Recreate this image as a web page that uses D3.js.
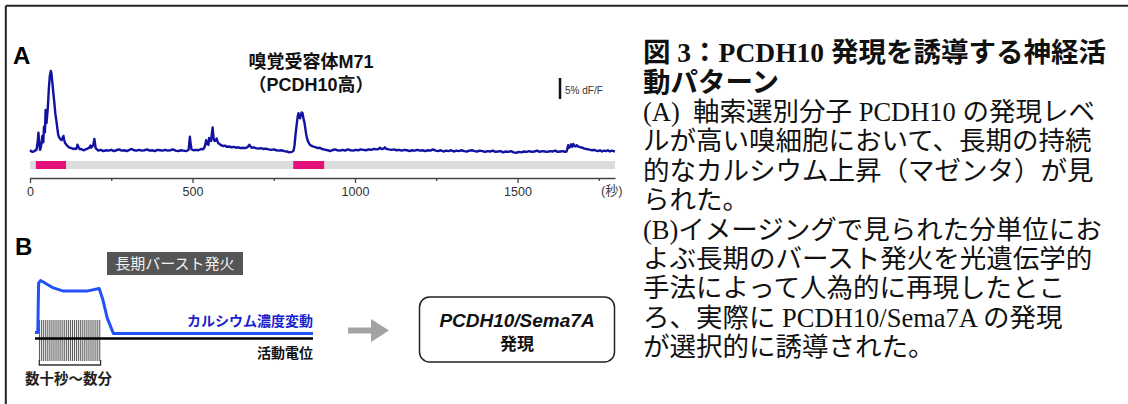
<!DOCTYPE html>
<html><head><meta charset="utf-8">
<script src="https://cdn.jsdelivr.net/npm/d3@7"></script>
<style>body{margin:0;background:#fff}svg{display:block}</style>
</head><body><svg id="c" width="1128" height="404"></svg>
<script>
// ---- Panel A data: calcium trace (time in s, dF/F in %) ----
const traceData = [
[0,0.3],[5,0.0],[10,-0.1],[15,0.2],[20,0.4],[24,2.5],[26,4.5],[28,2.0],[31,0.4],[34,1.2],[38,3.7],[41,2.2],[43,5.9],[46,4.6],[48,9.9],[50,7.5],[51,6.8],[53,8.8],[54,9.5],[56,12],[58,15],[61,18],[64,19.2],[66,18.6],[69,16.3],[72,13.8],[75,11.5],[78,9],[82,6.8],[85,5],[87,3.9],[90,3.3],[94,2.9],[97,2.7],[100,3.2],[103,3.7],[105,2.8],[108,2.0],[112,1.6],[116,1.3],[120,1.0],[123,0.9],[128,0.8],[133,0.6],[138,0.7],[142,0.6],[144,0.9],[146,1.6],[148,1.2],[151,0.8],[154,0.5],[158,0.6],[162,0.4],[166,0.3],[170,0.5],[175,0.6],[180,0.8],[183,1.0],[186,1.4],[188,0.9],[192,1.2],[195,1.6],[198,3.0],[200,2.0],[202,0.8],[206,0.5],
[210,0.2],[218,0.4],[226,0.1],[234,0.3],[242,0.2],[250,0.4],[258,0.1],[266,0.3],[274,0.5],[282,0.2],[290,0.3],[298,0.1],[306,0.4],[313,0.6],[320,0.3],[328,0.2],[336,0.4],[344,0.2],[352,0.3],[360,0.5],[368,0.2],[376,0.3],[384,0.1],[392,0.4],[400,0.3],[408,0.2],[416,0.4],[424,0.2],[432,0.3],[440,0.5],[448,0.2],[456,0.1],[464,0.3],[472,0.2],[480,0.1],[486,0.3],
[488,0.4],[490,2.0],[492,3.5],[494,2.0],[497,0.5],[503,0.3],[510,0.4],[518,0.3],[526,0.6],[532,0.5],[536,0.9],[539,1.5],[542,2.7],[545,1.8],[547,2.0],[549,1.6],[551,3.2],[554,2.8],[557,2.5],[560,4.5],[562,5.7],[564,3.9],[566,2.7],[569,2.5],[572,2.6],[574,3.1],[577,2.4],[579,2.0],[583,1.8],[588,1.5],[594,1.3],[600,1.4],[606,1.1],[613,1.2],[620,1.0],[627,1.1],[634,0.9],[641,1.0],[648,0.8],[655,0.9],[662,0.8],[668,1.0],[672,1.3],[675,1.6],[678,1.2],[682,0.9],[688,1.0],[695,0.8],[702,0.7],[710,0.8],[718,0.6],[726,0.7],[734,0.5],[742,0.4],[750,0.5],[758,0.3],[766,0.2],[774,0.3],[782,0.1],[790,0.0],[798,-0.2],[806,-0.1],
[811,0.2],[814,1.5],[817,4.0],[821,6.7],[824,8.5],[826,9.1],[828,8.4],[831,7.9],[834,8.8],[836,9.3],[838,9.2],[840,8.5],[842,7.6],[844,7.1],[847,5.6],[850,4.0],[853,3.0],[856,2.3],[859,1.9],[862,1.5],[866,1.4],[870,1.2],[875,1.1],[880,1.0],[886,0.8],[892,0.9],[898,0.6],[904,0.5],[910,0.4],[916,0.3],[923,0.1],
[930,0.3],[938,0.5],[946,0.3],[954,0.2],[962,0.4],[970,0.2],[978,0.5],[986,0.3],[994,0.2],[1002,0.4],[1010,0.3],[1018,0.5],[1026,0.4],[1034,0.3],[1042,0.5],[1050,0.4],[1058,0.6],[1066,0.5],[1072,0.6],[1077,0.9],[1082,0.6],[1088,0.7],[1092,1.0],[1097,0.6],[1104,0.5],[1112,0.4],[1120,0.5],[1128,0.3],[1136,0.4],[1144,0.2],[1152,0.4],[1160,0.3],[1168,0.1],[1176,0.3],[1184,0.2],[1192,0.4],[1200,0.2],[1208,0.3],[1216,0.1],[1224,0.3],[1232,0.2],[1240,0.5],[1248,0.2],[1256,0.1],[1264,0.3],[1272,0.0],[1280,0.2],[1288,0.1],[1296,0.3],[1304,0.0],[1312,0.2],[1320,0.1],[1328,0.3],[1336,0.1],[1344,0.0],[1352,0.2],[1360,0.3],[1368,0.1],[1376,0.0],[1384,0.2],[1392,0.1],[1400,-0.1],[1408,0.1],[1416,0.0],[1424,0.2],[1432,-0.1],[1440,0.0],[1448,0.1],[1456,-0.2],[1464,0.0],[1472,-0.1],[1480,0.1],[1488,-0.2],[1496,-0.3],[1504,-0.1],[1512,-0.2],[1520,0.0],[1528,-0.1],[1536,0.1],[1544,-0.1],[1552,0.0],[1560,0.2],[1568,-0.1],[1576,0.1],[1584,0.0],[1592,-0.1],[1600,0.1],[1608,0.0],[1616,0.2],[1624,-0.1],[1632,0.0],[1640,0.1],[1646,-0.1],[1651,0.0],
[1654,0.8],[1656,1.5],[1659,0.9],[1662,1.2],[1665,1.7],[1668,1.1],[1672,1.8],[1675,1.3],[1679,1.2],[1682,1.5],[1686,1.2],[1690,1.1],[1695,1.0],[1700,0.9],[1706,0.7],[1712,0.6],[1718,0.5],[1724,0.4],[1730,0.3],[1736,0.4],[1742,0.2],[1748,0.1],[1754,0.3],[1760,0.0],[1766,0.2],[1772,0.1],[1778,0.3],[1784,0.0],[1790,0.2],[1795,0.1],[1800,0.0]
];
const magentaSpans = [[18,111],[810,905]];
const timeDomain = [0,1800];
const majorTicks = [0,500,1000,1500];
const minorTicks = [250,750,1250,1750];
const scaleBarRange = [12.5,17.5]; // 5% dF/F
const titleA = ["嗅覚受容体M71","（PCDH10高）"];

// ---- Panel B schematic data ----
const calciumCurve = [[0,0.02],[1.0,0.02],[1.3,0.95],[2.05,1.0],[6.6,0.86],[10.2,0.8],[18.6,0.8],[23.1,0.85],[24.4,0.64],[26,0.29],[28.2,0],[100,0]];
const spikeTimes = [1.6,2.3,3.0,3.7,4.4,5.1,5.8,6.5,7.2,7.9,8.6,9.3,10.0,10.7,11.4,12.1,12.8,13.5,14.2,14.9,15.6,16.3,17.0,17.7,18.4,19.1,19.8,20.5,21.2,21.9,22.6,23.3];
const burstWindow = [1.55,23.6];

// ---- Right text ----
const titleLines = ["図 3：PCDH10 発現を誘導する神経活","動パターン"];
const bodyLines = [
"(A)  軸索選別分子 PCDH10 の発現レベ",
"ルが高い嗅細胞において、長期の持続",
"的なカルシウム上昇（マゼンタ）が見",
"られた。",
"(B)イメージングで見られた分単位にお",
"よぶ長期のバースト発火を光遺伝学的",
"手法によって人為的に再現したとこ",
"ろ、実際に PCDH10/Sema7A の発現",
"が選択的に誘導された。"
];

const svg = d3.select("#c");
const sans = '"Liberation Sans", Arial, "Noto Sans CJK JP", sans-serif';
const serif = '"Liberation Serif", "Times New Roman", "Noto Sans CJK JP", serif';

// frame (top and left)
svg.append("line").attr("x1",5.8).attr("x2",1128).attr("y1",5.8).attr("y2",5.8).attr("stroke","#222").attr("stroke-width",2);
svg.append("line").attr("x1",5.8).attr("x2",5.8).attr("y1",5.8).attr("y2",404).attr("stroke","#222").attr("stroke-width",2);

// ---- Panel A ----
const x = d3.scaleLinear().domain(timeDomain).range([30,615]);
const y = d3.scaleLinear().domain([0,20]).range([151.5,67.5]);

svg.append("text").attr("x",13).attr("y",64).attr("font-family",sans).attr("font-weight","bold").attr("font-size",24).text("A");
svg.selectAll(".tA").data(titleA).join("text").attr("x",311).attr("y",(d,i)=>68+i*23)
  .attr("text-anchor","middle").attr("font-family",sans).attr("font-weight","bold").attr("font-size",18).attr("fill","#111").text(d=>d);

// gray bar and magenta spans
svg.append("rect").attr("x",x(timeDomain[0])).attr("y",161).attr("width",x(timeDomain[1])-x(timeDomain[0])).attr("height",8).attr("fill","#dcdcdc");
svg.selectAll(".mag").data(magentaSpans).join("rect").attr("x",d=>x(d[0])).attr("y",161).attr("width",d=>x(d[1])-x(d[0])).attr("height",8).attr("fill","#e3107c");

// trace
svg.append("path").datum(traceData).attr("d",d3.line().x(d=>x(d[0])).y(d=>y(d[1])))
  .attr("fill","none").attr("stroke","#1212a2").attr("stroke-width",2.4).attr("stroke-linejoin","round");

// scale bar
svg.append("line").attr("x1",560).attr("x2",560).attr("y1",y(scaleBarRange[0])).attr("y2",y(scaleBarRange[1])).attr("stroke","#111").attr("stroke-width",2.5);
svg.append("text").attr("x",565).attr("y",94).attr("font-family",sans).attr("font-size",10).attr("fill","#333").text("5% dF/F");

// axis
const axG = svg.append("g").attr("transform","translate(0,178)");
axG.call(d3.axisBottom(x).tickValues(majorTicks).tickFormat(d3.format("d")).tickSize(5).tickSizeOuter(0).tickPadding(4));
const axMinor = svg.append("g").attr("transform","translate(0,178)");
axMinor.call(d3.axisBottom(x).tickValues(minorTicks).tickSize(3).tickFormat(""));
axMinor.select(".domain").remove();
svg.selectAll(".tick line, .domain").attr("stroke","#444").attr("stroke-width",1.3);
axG.selectAll(".tick text").attr("font-family",sans).attr("font-size",12.5).attr("fill","#333");
svg.append("text").attr("x",601).attr("y",195).attr("font-family",sans).attr("font-size",13).attr("fill","#444").text("(秒)");

// ---- Panel B ----
const bx = d3.scaleLinear().domain([0,100]).range([35,313]);
const by = d3.scaleLinear().domain([0,1]).range([333.5,280.5]);

svg.append("text").attr("x",15).attr("y",255).attr("font-family",sans).attr("font-weight","bold").attr("font-size",24).text("B");
svg.append("rect").attr("x",107).attr("y",252).attr("width",136).attr("height",23).attr("fill","#555");
svg.append("text").attr("x",175).attr("y",269).attr("text-anchor","middle").attr("font-family",sans).attr("font-size",15).attr("fill","#f2f2f2").text("長期バースト発火");

// spikes
svg.selectAll(".sp").data(spikeTimes).join("line").attr("x1",d=>bx(d)).attr("x2",d=>bx(d)).attr("y1",320).attr("y2",361)
  .attr("stroke","#555").attr("stroke-width",1);
// activity potential baseline
svg.append("line").attr("x1",bx(0)).attr("x2",bx(100)).attr("y1",338.5).attr("y2",338.5).attr("stroke","#000").attr("stroke-width",2.5);
// calcium curve
svg.append("path").datum(calciumCurve).attr("d",d3.line().x(d=>bx(d[0])).y(d=>by(d[1])))
  .attr("fill","none").attr("stroke","#2251f5").attr("stroke-width",3).attr("stroke-linejoin","round");
// bracket
svg.append("path").attr("d",`M${bx(burstWindow[0])},360V365H${bx(burstWindow[1])}V360`).attr("fill","none").attr("stroke","#333").attr("stroke-width",1.3);
svg.append("text").attr("x",25).attr("y",384).attr("font-family",sans).attr("font-weight","bold").attr("font-size",14.5).attr("fill","#222").text("数十秒～数分");
svg.append("text").attr("x",313).attr("y",326).attr("text-anchor","end").attr("font-family",sans).attr("font-weight","bold").attr("font-size",14).attr("fill","#1a22cc").text("カルシウム濃度変動");
svg.append("text").attr("x",313).attr("y",358).attr("text-anchor","end").attr("font-family",sans).attr("font-weight","bold").attr("font-size",14).attr("fill","#111").text("活動電位");

// arrow
svg.append("path").attr("d","M348,327.5H371V319L389,330.5L371,342V333.5H348Z").attr("fill","#a3a3a3");

// result box
svg.append("rect").attr("x",419.5).attr("y",297).attr("width",195).attr("height",65).attr("rx",10).attr("fill","#fff").attr("stroke","#222").attr("stroke-width",1.5);
svg.append("text").attr("x",517).attr("y",327).attr("text-anchor","middle").attr("font-family",sans).attr("font-weight","bold").attr("font-style","italic").attr("font-size",19).attr("fill","#111").text("PCDH10/Sema7A");
svg.append("text").attr("x",517).attr("y",350).attr("text-anchor","middle").attr("font-family",sans).attr("font-weight","bold").attr("font-size",17).attr("fill","#111").text("発現");

// ---- Right text block ----
const tx = 643;
svg.selectAll(".tt").data(titleLines).join("text").attr("x",tx).attr("y",(d,i)=>62+i*30)
  .attr("font-family",serif).attr("font-weight","bold").attr("font-size",27.5).attr("fill","#111").style("white-space","pre").text(d=>d);
svg.selectAll(".bt").data(bodyLines).join("text").attr("x",tx).attr("y",(d,i)=>121+i*29.4)
  .attr("font-family",serif).attr("font-size",26.5).attr("fill","#111").style("white-space","pre").text(d=>d);
</script></body></html>
